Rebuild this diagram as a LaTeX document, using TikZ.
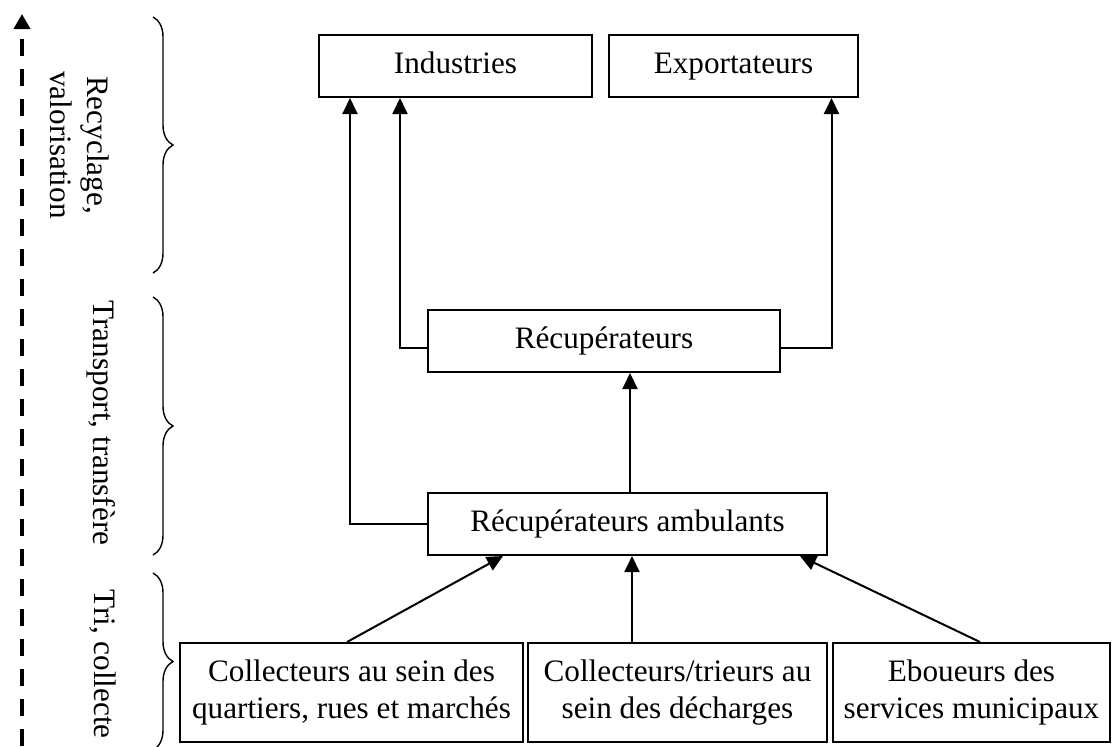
\documentclass[tikz,border=0pt]{standalone}
\usepackage{fontspec}
\setmainfont{Liberation Serif}
\usetikzlibrary{arrows.meta,decorations.pathreplacing}

\begin{document}
\begin{tikzpicture}[x = 0.5pt, y = -0.5pt, font = \fontsize{15.6}{18.5}\selectfont,
		box/.style = {draw, line width = 1pt, minimum height = 31pt, inner sep = 0pt, align = center},
		one/.style = {box, text height = 11pt, text depth = 3.5pt},
		arr/.style = {line width = 1pt, -{Triangle[width = 7.5pt, length = 8pt]}},
		brc/.style = {decorate, decoration = {brace, amplitude = 10pt}, line width = 0.7pt}]
			\useasboundingbox (0,0) rectangle (1112,746);
			\node[one, minimum width = 136.5pt] (ind) at (455.5,66) {Industries};
			\node[one, minimum width = 124.5pt] (exp) at (733.5,66) {Exportateurs};
			\node[one, minimum width = 176pt] (rec) at (604,341) {Récupérateurs};
			\node[one, minimum width = 199.5pt] (amb) at (627.5,524) {Récupérateurs ambulants};
			\node[box, minimum width = 171.5pt, minimum height = 49.5pt] (col) at (351.5,692.5) {Collecteurs au sein des\\quartiers, rues et marchés};
			\node[box, minimum width = 149.5pt, minimum height = 49.5pt] (tri) at (677.5,692.5) {Collecteurs/trieurs au\\sein des décharges};
			\node[box, minimum width = 138.5pt, minimum height = 49.5pt] (ebo) at (971.5,692.5) {Eboueurs des\\services municipaux};
			\node[rotate = -90, align = center] (l1) at (80,145) {Recyclage,\\valorisation};
			\node[rotate = -90] (l2) at (101,423) {Transport, transfère};
			\node[rotate = -90] (l3) at (103,664) {Tri, collecte};
			\coordinate (lo) at (22,746);
			\coordinate (hi) at (22,14);
			\draw[line width = 2pt, dash pattern = on 8.5pt off 6.5pt, -{Triangle[width = 8pt, length = 7.5pt]}] (lo) -- (hi);
			\draw[brc] (153,17) -- (153,273);
			\draw[brc] (153,297) -- (153,555);
			\draw[brc] (153,573) -- (153,750);
			\draw[arr] (amb.west) -| ([xshift = 16pt]ind.south west);
			\draw[arr] ([yshift = -3.5pt]rec.west) -| ([xshift = 41pt]ind.south west);
			\draw[arr] ([yshift = -3.5pt]rec.east) -| ([xshift = -13.75pt]exp.south east);
			\draw[arr] ([xshift = 1.25pt]amb.north) -- ([xshift = 13pt]rec.south);
			\draw[arr] ([xshift = -2.25pt]col.north) -- ([xshift = -62.25pt]amb.south);
			\draw[arr] ([xshift = -22.75pt]tri.north) -- ([xshift = 2.25pt]amb.south);
			\draw[arr] ([xshift = 4.25pt]ebo.north) -- ([xshift = 86.25pt]amb.south);
		\end{tikzpicture}
\end{document}
